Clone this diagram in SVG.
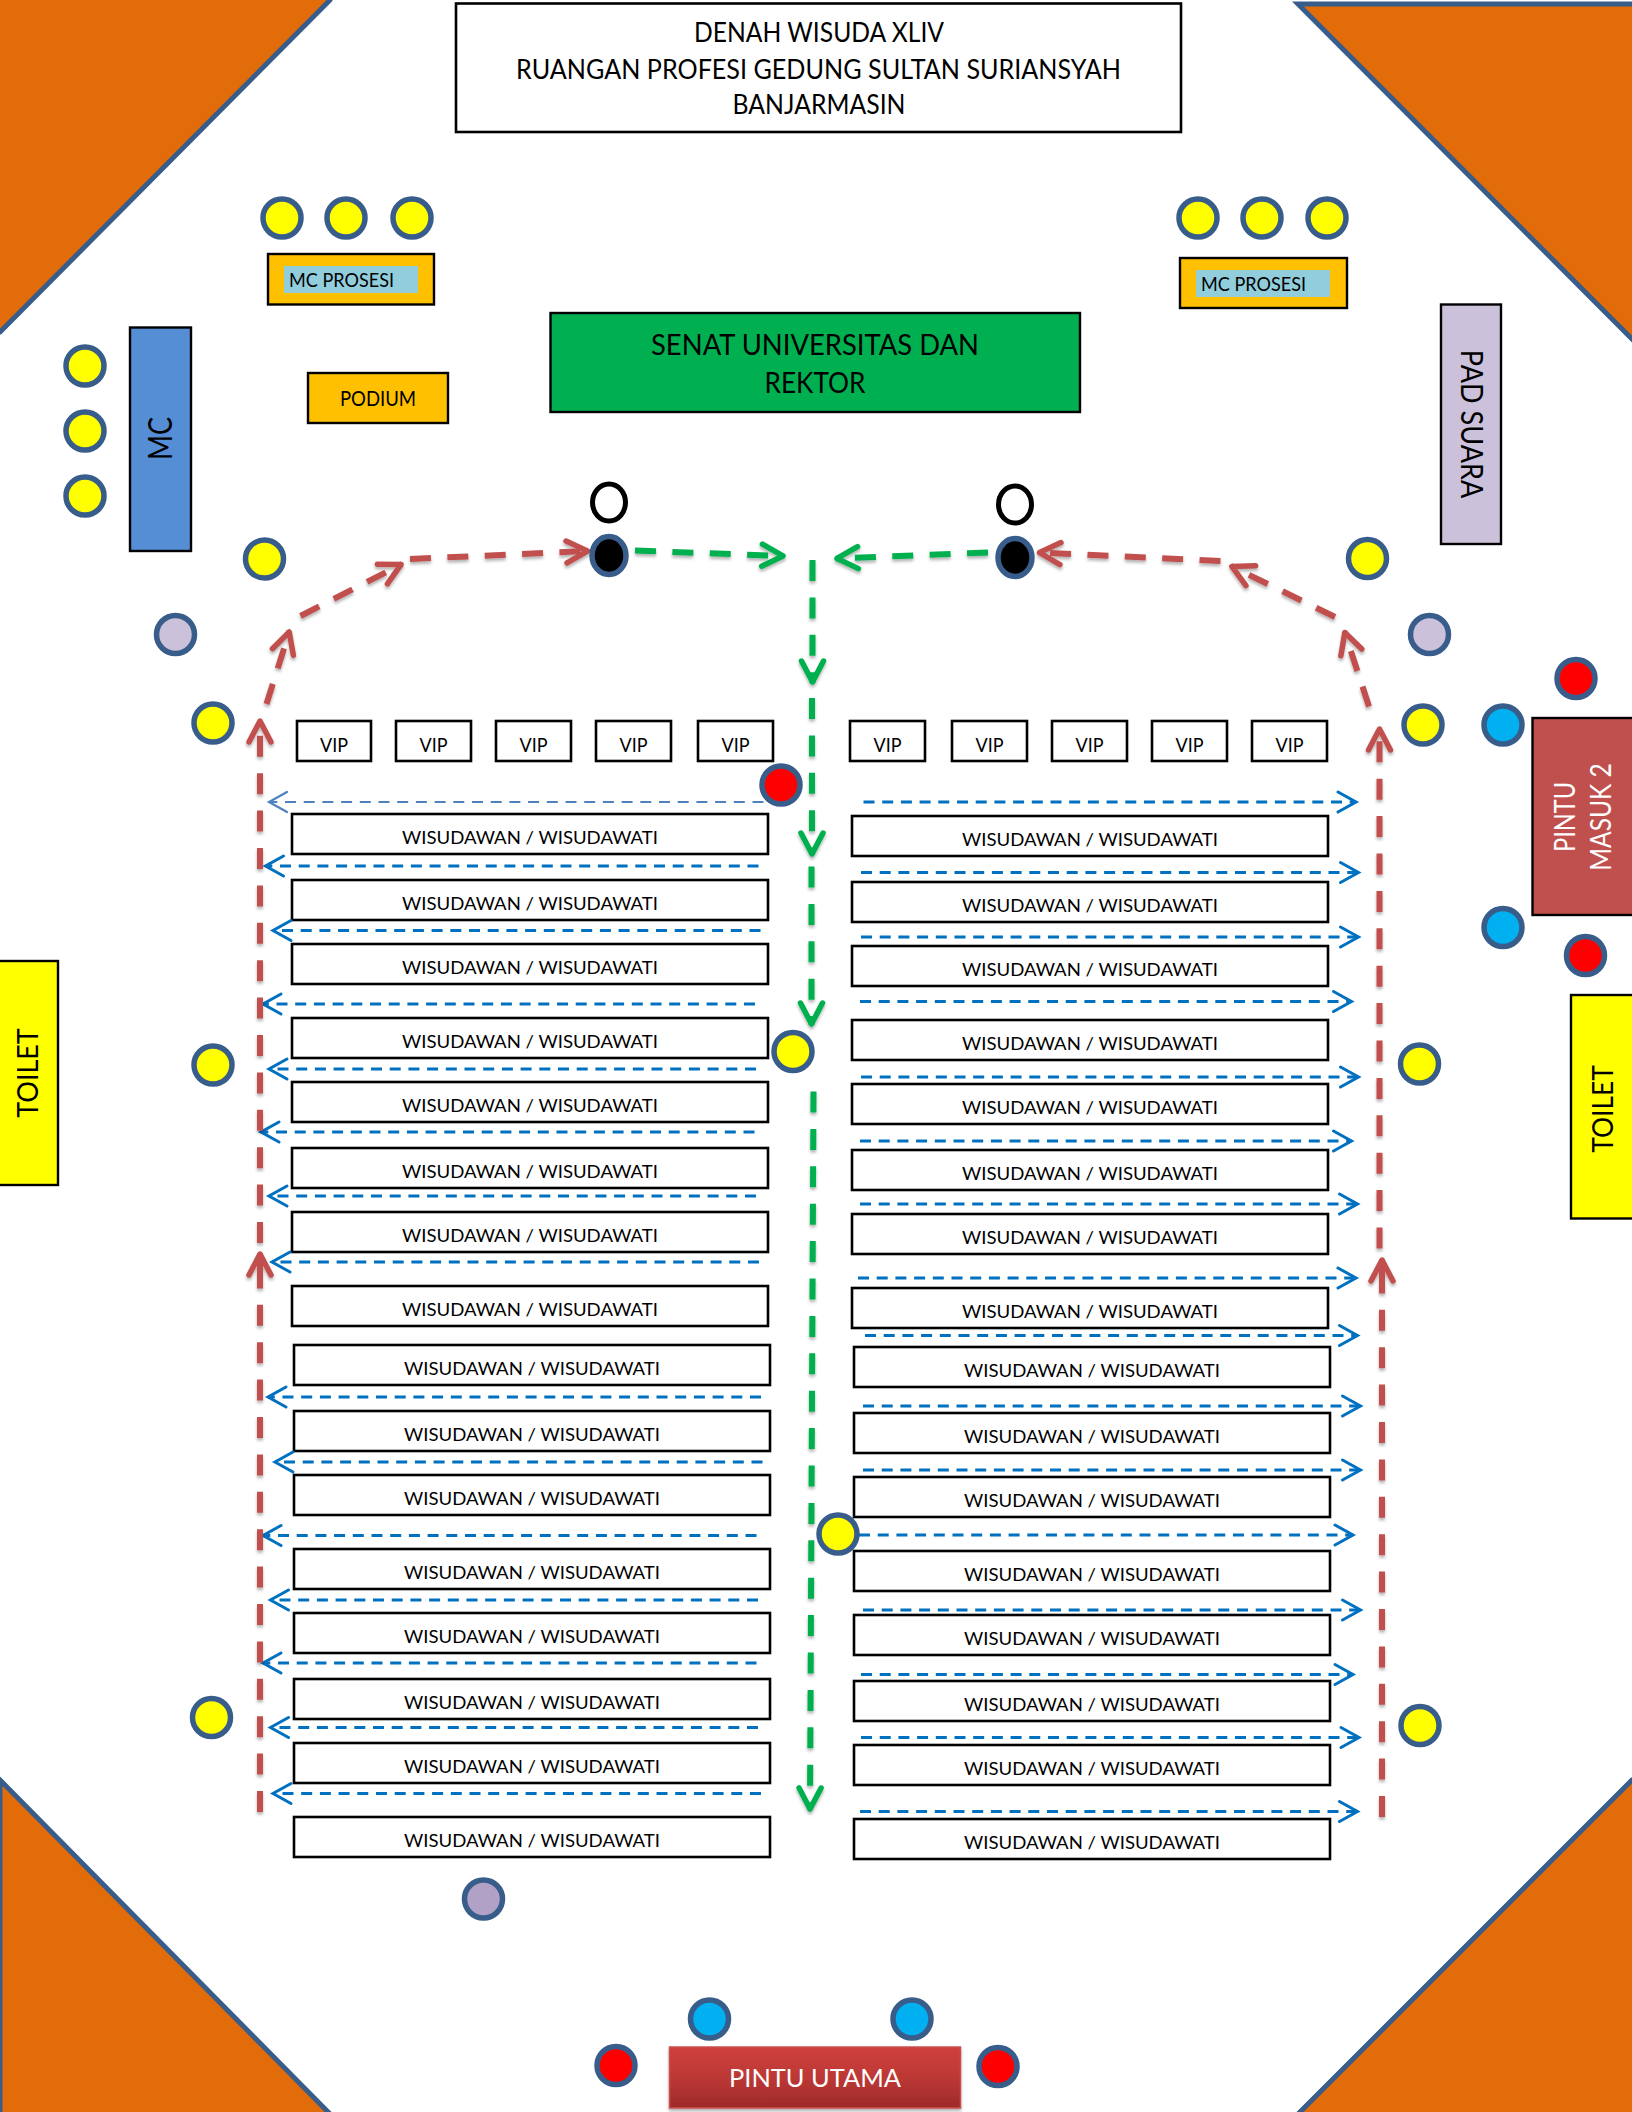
<svg xmlns="http://www.w3.org/2000/svg" width="1632" height="2112" viewBox="0 0 1632 2112">
<style>
text{font-family:"Lato","Carlito","Open Sans",sans-serif;fill:#000;text-anchor:middle}
.tri{fill:#E36C0A;stroke:#385D8A;stroke-width:5}
.box{fill:#fff;stroke:#000;stroke-width:2.6}
.thin{stroke:#000;stroke-width:2.4}
.c{stroke:#385D8A;stroke-width:5.5}
.y{fill:#FF0}.r{fill:#F00}.b{fill:#00B0F0}.l{fill:#CCC1DA}.k{fill:#000}
.row{font-size:18px}
.vip{font-size:20px}
.mcp{font-size:20px}
.blue{fill:none;stroke:#0070C0;stroke-width:3;stroke-dasharray:11 7.7;marker-end:url(#mb)}
.blue2{fill:none;stroke:#4F81BD;stroke-width:2.2;stroke-dasharray:11 7.7;marker-end:url(#mb2)}
.red{fill:none;stroke:#C0504D;stroke-width:6;stroke-dasharray:21 16.4;marker-end:url(#mr)}
.green{fill:none;stroke:#00B050;stroke-width:6;stroke-dasharray:21 16.4;marker-end:url(#mg)}
</style>
<defs>
<marker id="mb" markerUnits="userSpaceOnUse" markerWidth="28" markerHeight="30" refX="23" refY="15" orient="auto"><path d="M5 5L23 15L5 25" fill="none" stroke="#0070C0" stroke-width="3" stroke-linecap="round"/></marker>
<marker id="mb2" markerUnits="userSpaceOnUse" markerWidth="28" markerHeight="30" refX="23" refY="15" orient="auto"><path d="M5 5L23 15L5 25" fill="none" stroke="#4F81BD" stroke-width="2.2" stroke-linecap="round"/></marker>
<marker id="mr" markerUnits="userSpaceOnUse" markerWidth="36" markerHeight="36" refX="28" refY="18" orient="auto"><path d="M6 7L27 18L6 29" fill="none" stroke="#C0504D" stroke-width="5.5" stroke-linecap="round" stroke-linejoin="round"/></marker>
<marker id="mg" markerUnits="userSpaceOnUse" markerWidth="36" markerHeight="36" refX="28" refY="18" orient="auto"><path d="M6 7L27 18L6 29" fill="none" stroke="#00B050" stroke-width="5.5" stroke-linecap="round" stroke-linejoin="round"/></marker>
<filter id="sh" filterUnits="userSpaceOnUse" x="0" y="0" width="1632" height="2112"><feDropShadow dx="0" dy="2.5" stdDeviation="1.8" flood-color="#000" flood-opacity="0.3"/></filter>
<linearGradient id="gu" x1="0" y1="0" x2="0" y2="1"><stop offset="0" stop-color="#CF403C"/><stop offset="0.5" stop-color="#BC3835"/><stop offset="1" stop-color="#9E2A2A"/></linearGradient>
</defs>
<rect width="1632" height="2112" fill="#fff"/>

<g id="corner-tl"><polygon class="tri" points="-4,-4 330,-4 330,0 0,332 -4,332"/></g>
<g id="corner-tr"><polygon class="tri" points="1298,4 1640,4 1640,347 1632,339"/></g>
<g id="corner-bl"><polygon class="tri" points="0,1780 332,2116 0,2116"/></g>
<g id="corner-br"><polygon class="tri" points="1632,1780 1640,1780 1640,2116 1296,2116"/></g>

<g id="title"><rect class="box" x="456" y="3.5" width="725" height="128.5"/>
<text x="819" y="42" font-size="26" textLength="250" lengthAdjust="spacingAndGlyphs">DENAH WISUDA XLIV</text>
<text x="818.5" y="79" font-size="26" textLength="605" lengthAdjust="spacingAndGlyphs">RUANGAN PROFESI GEDUNG SULTAN SURIANSYAH</text>
<text x="819" y="113.5" font-size="26" textLength="173" lengthAdjust="spacingAndGlyphs">BANJARMASIN</text></g>

<g id="senat"><rect x="550.5" y="313" width="529.5" height="99" fill="#00B050" class="thin"/>
<text x="815" y="354.5" font-size="29" textLength="328" lengthAdjust="spacingAndGlyphs">SENAT UNIVERSITAS DAN</text>
<text x="815" y="393" font-size="29" textLength="101" lengthAdjust="spacingAndGlyphs">REKTOR</text></g>

<g id="mc-prosesi-left"><rect x="268" y="254" width="166" height="50.5" fill="#FFC000" class="thin"/><rect x="284" y="266" width="134" height="27" fill="#92CDDC"/><text class="mcp" x="341.5" y="287" textLength="105" lengthAdjust="spacingAndGlyphs">MC PROSESI</text></g>
<g id="mc-prosesi-right"><rect x="1180" y="258" width="167" height="50" fill="#FFC000" class="thin"/><rect x="1196" y="270" width="134" height="27" fill="#92CDDC"/><text class="mcp" x="1253.5" y="291" textLength="105" lengthAdjust="spacingAndGlyphs">MC PROSESI</text></g>
<g id="podium"><rect x="308" y="373" width="140" height="50" fill="#FFC000" class="thin"/><text x="378" y="405.5" font-size="21" textLength="76" lengthAdjust="spacingAndGlyphs">PODIUM</text></g>
<g id="mc"><rect x="130" y="327.5" width="61" height="223.5" fill="#558ED5" class="thin"/><text transform="translate(172 438.5) rotate(-90)" font-size="32" textLength="43" lengthAdjust="spacingAndGlyphs">MC</text></g>
<g id="pad-suara"><rect x="1441" y="304.5" width="60" height="239.5" fill="#CCC1DA" class="thin"/><text transform="translate(1461 424) rotate(90)" font-size="31" textLength="148.5" lengthAdjust="spacingAndGlyphs">PAD SUARA</text></g>
<g id="toilet-left"><rect x="-6" y="961" width="64" height="224" fill="#FF0" class="thin"/><text transform="translate(37.5 1073) rotate(-90)" font-size="29" textLength="89.5" lengthAdjust="spacingAndGlyphs">TOILET</text></g>
<g id="toilet-right"><rect x="1571" y="995" width="70" height="223.5" fill="#FF0" class="thin"/><text transform="translate(1613 1109) rotate(-90)" font-size="29" textLength="87.5" lengthAdjust="spacingAndGlyphs">TOILET</text></g>
<g id="pintu-masuk-2"><rect x="1532.5" y="718" width="108" height="197" fill="#C0504D" class="thin"/><text transform="translate(1574.5 817) rotate(-90)" font-size="28" textLength="70" lengthAdjust="spacingAndGlyphs" style="fill:#fff">PINTU</text><text transform="translate(1610.5 817) rotate(-90)" font-size="28" textLength="107.5" lengthAdjust="spacingAndGlyphs" style="fill:#fff">MASUK 2</text></g>
<g id="pintu-utama"><rect x="669.5" y="2047" width="291" height="61" fill="url(#gu)" stroke="#C8504C" stroke-width="1.5" filter="url(#sh)"/><text x="815" y="2086.5" font-size="25" textLength="172" lengthAdjust="spacingAndGlyphs" style="fill:#fff">PINTU UTAMA</text></g>

<g id="vip-left">
<g id="vip-l1"><rect class="box" x="297" y="721" width="74" height="40"/><text class="vip" x="334" y="751.5" textLength="28" lengthAdjust="spacingAndGlyphs">VIP</text></g>
<g id="vip-l2"><rect class="box" x="396" y="721" width="75" height="40"/><text class="vip" x="433.5" y="751.5" textLength="28" lengthAdjust="spacingAndGlyphs">VIP</text></g>
<g id="vip-l3"><rect class="box" x="496" y="721" width="75" height="40"/><text class="vip" x="533.5" y="751.5" textLength="28" lengthAdjust="spacingAndGlyphs">VIP</text></g>
<g id="vip-l4"><rect class="box" x="596" y="721" width="75" height="40"/><text class="vip" x="633.5" y="751.5" textLength="28" lengthAdjust="spacingAndGlyphs">VIP</text></g>
<g id="vip-l5"><rect class="box" x="698" y="721" width="75" height="40"/><text class="vip" x="735.5" y="751.5" textLength="28" lengthAdjust="spacingAndGlyphs">VIP</text></g>
</g>
<g id="vip-right">
<g id="vip-r1"><rect class="box" x="850" y="721" width="75" height="40"/><text class="vip" x="887.5" y="751.5" textLength="28" lengthAdjust="spacingAndGlyphs">VIP</text></g>
<g id="vip-r2"><rect class="box" x="952" y="721" width="75" height="40"/><text class="vip" x="989.5" y="751.5" textLength="28" lengthAdjust="spacingAndGlyphs">VIP</text></g>
<g id="vip-r3"><rect class="box" x="1052" y="721" width="75" height="40"/><text class="vip" x="1089.5" y="751.5" textLength="28" lengthAdjust="spacingAndGlyphs">VIP</text></g>
<g id="vip-r4"><rect class="box" x="1152" y="721" width="75" height="40"/><text class="vip" x="1189.5" y="751.5" textLength="28" lengthAdjust="spacingAndGlyphs">VIP</text></g>
<g id="vip-r5"><rect class="box" x="1252" y="721" width="75" height="40"/><text class="vip" x="1289.5" y="751.5" textLength="28" lengthAdjust="spacingAndGlyphs">VIP</text></g>
</g>

<g id="rows-left">
<g id="l1"><rect class="box" x="292" y="814" width="476" height="40"/><text class="row" x="530" y="844" textLength="256" lengthAdjust="spacingAndGlyphs">WISUDAWAN / WISUDAWATI</text></g>
<g id="l2"><rect class="box" x="292" y="880" width="476" height="40"/><text class="row" x="530" y="910" textLength="256" lengthAdjust="spacingAndGlyphs">WISUDAWAN / WISUDAWATI</text></g>
<g id="l3"><rect class="box" x="292" y="944" width="476" height="40"/><text class="row" x="530" y="974" textLength="256" lengthAdjust="spacingAndGlyphs">WISUDAWAN / WISUDAWATI</text></g>
<g id="l4"><rect class="box" x="292" y="1018" width="476" height="40"/><text class="row" x="530" y="1048" textLength="256" lengthAdjust="spacingAndGlyphs">WISUDAWAN / WISUDAWATI</text></g>
<g id="l5"><rect class="box" x="292" y="1082" width="476" height="40"/><text class="row" x="530" y="1112" textLength="256" lengthAdjust="spacingAndGlyphs">WISUDAWAN / WISUDAWATI</text></g>
<g id="l6"><rect class="box" x="292" y="1148" width="476" height="40"/><text class="row" x="530" y="1178" textLength="256" lengthAdjust="spacingAndGlyphs">WISUDAWAN / WISUDAWATI</text></g>
<g id="l7"><rect class="box" x="292" y="1212" width="476" height="40"/><text class="row" x="530" y="1242" textLength="256" lengthAdjust="spacingAndGlyphs">WISUDAWAN / WISUDAWATI</text></g>
<g id="l8"><rect class="box" x="292" y="1286" width="476" height="40"/><text class="row" x="530" y="1316" textLength="256" lengthAdjust="spacingAndGlyphs">WISUDAWAN / WISUDAWATI</text></g>
<g id="l9"><rect class="box" x="294" y="1345" width="476" height="40"/><text class="row" x="532" y="1375" textLength="256" lengthAdjust="spacingAndGlyphs">WISUDAWAN / WISUDAWATI</text></g>
<g id="l10"><rect class="box" x="294" y="1411" width="476" height="40"/><text class="row" x="532" y="1441" textLength="256" lengthAdjust="spacingAndGlyphs">WISUDAWAN / WISUDAWATI</text></g>
<g id="l11"><rect class="box" x="294" y="1475" width="476" height="40"/><text class="row" x="532" y="1505" textLength="256" lengthAdjust="spacingAndGlyphs">WISUDAWAN / WISUDAWATI</text></g>
<g id="l12"><rect class="box" x="294" y="1549" width="476" height="40"/><text class="row" x="532" y="1579" textLength="256" lengthAdjust="spacingAndGlyphs">WISUDAWAN / WISUDAWATI</text></g>
<g id="l13"><rect class="box" x="294" y="1613" width="476" height="40"/><text class="row" x="532" y="1643" textLength="256" lengthAdjust="spacingAndGlyphs">WISUDAWAN / WISUDAWATI</text></g>
<g id="l14"><rect class="box" x="294" y="1679" width="476" height="40"/><text class="row" x="532" y="1709" textLength="256" lengthAdjust="spacingAndGlyphs">WISUDAWAN / WISUDAWATI</text></g>
<g id="l15"><rect class="box" x="294" y="1743" width="476" height="40"/><text class="row" x="532" y="1773" textLength="256" lengthAdjust="spacingAndGlyphs">WISUDAWAN / WISUDAWATI</text></g>
<g id="l16"><rect class="box" x="294" y="1817" width="476" height="40"/><text class="row" x="532" y="1847" textLength="256" lengthAdjust="spacingAndGlyphs">WISUDAWAN / WISUDAWATI</text></g>
</g>
<g id="rows-right">
<g id="r1"><rect class="box" x="852" y="816" width="476" height="40"/><text class="row" x="1090" y="846" textLength="256" lengthAdjust="spacingAndGlyphs">WISUDAWAN / WISUDAWATI</text></g>
<g id="r2"><rect class="box" x="852" y="882" width="476" height="40"/><text class="row" x="1090" y="912" textLength="256" lengthAdjust="spacingAndGlyphs">WISUDAWAN / WISUDAWATI</text></g>
<g id="r3"><rect class="box" x="852" y="946" width="476" height="40"/><text class="row" x="1090" y="976" textLength="256" lengthAdjust="spacingAndGlyphs">WISUDAWAN / WISUDAWATI</text></g>
<g id="r4"><rect class="box" x="852" y="1020" width="476" height="40"/><text class="row" x="1090" y="1050" textLength="256" lengthAdjust="spacingAndGlyphs">WISUDAWAN / WISUDAWATI</text></g>
<g id="r5"><rect class="box" x="852" y="1084" width="476" height="40"/><text class="row" x="1090" y="1114" textLength="256" lengthAdjust="spacingAndGlyphs">WISUDAWAN / WISUDAWATI</text></g>
<g id="r6"><rect class="box" x="852" y="1150" width="476" height="40"/><text class="row" x="1090" y="1180" textLength="256" lengthAdjust="spacingAndGlyphs">WISUDAWAN / WISUDAWATI</text></g>
<g id="r7"><rect class="box" x="852" y="1214" width="476" height="40"/><text class="row" x="1090" y="1244" textLength="256" lengthAdjust="spacingAndGlyphs">WISUDAWAN / WISUDAWATI</text></g>
<g id="r8"><rect class="box" x="852" y="1288" width="476" height="40"/><text class="row" x="1090" y="1318" textLength="256" lengthAdjust="spacingAndGlyphs">WISUDAWAN / WISUDAWATI</text></g>
<g id="r9"><rect class="box" x="854" y="1347" width="476" height="40"/><text class="row" x="1092" y="1377" textLength="256" lengthAdjust="spacingAndGlyphs">WISUDAWAN / WISUDAWATI</text></g>
<g id="r10"><rect class="box" x="854" y="1413" width="476" height="40"/><text class="row" x="1092" y="1443" textLength="256" lengthAdjust="spacingAndGlyphs">WISUDAWAN / WISUDAWATI</text></g>
<g id="r11"><rect class="box" x="854" y="1477" width="476" height="40"/><text class="row" x="1092" y="1507" textLength="256" lengthAdjust="spacingAndGlyphs">WISUDAWAN / WISUDAWATI</text></g>
<g id="r12"><rect class="box" x="854" y="1551" width="476" height="40"/><text class="row" x="1092" y="1581" textLength="256" lengthAdjust="spacingAndGlyphs">WISUDAWAN / WISUDAWATI</text></g>
<g id="r13"><rect class="box" x="854" y="1615" width="476" height="40"/><text class="row" x="1092" y="1645" textLength="256" lengthAdjust="spacingAndGlyphs">WISUDAWAN / WISUDAWATI</text></g>
<g id="r14"><rect class="box" x="854" y="1681" width="476" height="40"/><text class="row" x="1092" y="1711" textLength="256" lengthAdjust="spacingAndGlyphs">WISUDAWAN / WISUDAWATI</text></g>
<g id="r15"><rect class="box" x="854" y="1745" width="476" height="40"/><text class="row" x="1092" y="1775" textLength="256" lengthAdjust="spacingAndGlyphs">WISUDAWAN / WISUDAWATI</text></g>
<g id="r16"><rect class="box" x="854" y="1819" width="476" height="40"/><text class="row" x="1092" y="1849" textLength="256" lengthAdjust="spacingAndGlyphs">WISUDAWAN / WISUDAWATI</text></g>
</g>

<g id="connectors">
<g id="blue-left">
<path class="blue2" d="M763.5 802H269"/>
<path class="blue" d="M758.5 866H265.5"/>
<path class="blue" d="M760.5 930.5H273"/>
<path class="blue" d="M755 1004H263"/>
<path class="blue" d="M756 1069H269"/>
<path class="blue" d="M754.5 1132H261"/>
<path class="blue" d="M756 1196H269"/>
<path class="blue" d="M759 1262H272"/>
<path class="blue" d="M761 1397H268"/>
<path class="blue" d="M762.5 1462H275"/>
<path class="blue" d="M756.5 1535.5H263"/>
<path class="blue" d="M758 1600H270.5"/>
<path class="blue" d="M756.5 1663H263"/>
<path class="blue" d="M758 1727.5H270.5"/>
<path class="blue" d="M761 1793.5H273"/>
</g>
<g id="blue-right">
<path class="blue" d="M863.5 802H1356"/>
<path class="blue" d="M861 872.5H1358.5"/>
<path class="blue" d="M861 937H1358.5"/>
<path class="blue" d="M860 1001.5H1351.5"/>
<path class="blue" d="M861 1077H1358.5"/>
<path class="blue" d="M860 1141H1351.5"/>
<path class="blue" d="M860 1204H1357.5"/>
<path class="blue" d="M858 1278H1356"/>
<path class="blue" d="M865 1335.5H1357.5"/>
<path class="blue" d="M863 1406H1360.5"/>
<path class="blue" d="M863 1470H1360.5"/>
<path class="blue" d="M859 1535H1353"/>
<path class="blue" d="M863 1610H1360.5"/>
<path class="blue" d="M861 1674.5H1353"/>
<path class="blue" d="M861 1737.5H1359"/>
<path class="blue" d="M860 1811.5H1357.5"/>
</g>
<g id="red-paths" filter="url(#sh)">
<path class="red" style="stroke-dasharray:21 16.4 21 16.4 21 16.4 21 16.4 21 16.4 21 16.4 21 16.4 21 16.4 21 16.4 21 16.4 21 16.4 21 16.4 21 16.4 21 16.4 40 0" d="M260 1812V1253"/>
<path class="red" d="M260 1243V720"/>
<path class="red" d="M266.5 704L289.5 631"/>
<path class="red" d="M300.5 616L402 564"/>
<path class="red" d="M410 559L588.5 551"/>
<path class="red" style="stroke-dasharray:21 16.4 21 16.4 21 16.4 21 16.4 21 16.4 21 16.4 21 16.4 21 16.4 21 16.4 21 16.4 21 16.4 21 16.4 21 16.4 21 16.4 40 0" d="M1382 1817V1259"/>
<path class="red" d="M1379.5 1248.5V728"/>
<path class="red" d="M1369 706.5L1344.5 631.5"/>
<path class="red" d="M1335 617L1231 566"/>
<path class="red" d="M1220.5 561L1038.5 552.5"/>
</g>
<g id="green-paths" filter="url(#sh)">
<path class="green" d="M635 550.5L784 556"/>
<path class="green" d="M988 552.5L836 558.5"/>
<path class="green" d="M812.5 560V683"/>
<path class="green" d="M812 698V855"/>
<path class="green" d="M811.5 866.5V1025"/>
<path class="green" d="M813.5 1091.5L810 1810"/>
</g>
</g>

<g id="seat-mc-l1"><circle class="c y" cx="282" cy="218" r="19"/></g>
<g id="seat-mc-l2"><circle class="c y" cx="346" cy="218" r="19"/></g>
<g id="seat-mc-l3"><circle class="c y" cx="412" cy="218" r="19"/></g>
<g id="seat-mc-r1"><circle class="c y" cx="1198" cy="218" r="19"/></g>
<g id="seat-mc-r2"><circle class="c y" cx="1262" cy="218" r="19"/></g>
<g id="seat-mc-r3"><circle class="c y" cx="1327" cy="218" r="19"/></g>
<g id="seat-a1"><circle class="c y" cx="85" cy="366" r="19"/></g>
<g id="seat-a2"><circle class="c y" cx="85" cy="431" r="19"/></g>
<g id="seat-a3"><circle class="c y" cx="85" cy="496" r="19"/></g>
<g id="seat-a4"><circle class="c y" cx="264.5" cy="559" r="19"/></g>
<g id="seat-a5"><circle class="c l" cx="175.5" cy="634.5" r="19"/></g>
<g id="seat-a6"><circle class="c y" cx="213" cy="723" r="19"/></g>
<g id="seat-a7"><circle class="c y" cx="213" cy="1065" r="19"/></g>
<g id="seat-a8"><circle class="c y" cx="211.5" cy="1717.5" r="19"/></g>
<g id="seat-a9"><circle class="c" fill="#B2A1C7" cx="483.5" cy="1899" r="19"/></g>
<g id="seat-b1"><circle class="c y" cx="1367.5" cy="558.5" r="19"/></g>
<g id="seat-b2"><circle class="c l" cx="1429.5" cy="634.5" r="19"/></g>
<g id="seat-b3"><circle class="c y" cx="1423" cy="725" r="19"/></g>
<g id="seat-b4"><circle class="c b" cx="1503" cy="725" r="19"/></g>
<g id="seat-b5"><circle class="c r" cx="1576" cy="678.5" r="19"/></g>
<g id="seat-b6"><circle class="c b" cx="1503" cy="927.5" r="19"/></g>
<g id="seat-b7"><circle class="c r" cx="1585.5" cy="955.5" r="19"/></g>
<g id="seat-b8"><circle class="c y" cx="1419.5" cy="1064" r="19"/></g>
<g id="seat-b9"><circle class="c y" cx="1420" cy="1725.5" r="19"/></g>
<g id="seat-m1"><circle class="c r" cx="781" cy="785" r="19"/></g>
<g id="seat-m2"><circle class="c y" cx="793" cy="1051.5" r="19"/></g>
<g id="seat-m3"><circle class="c y" cx="838" cy="1534" r="19"/></g>
<g id="seat-d1"><circle class="c b" cx="709.5" cy="2019" r="19"/></g>
<g id="seat-d2"><circle class="c b" cx="912" cy="2019" r="19"/></g>
<g id="seat-d3"><circle class="c r" cx="616" cy="2065.5" r="19"/></g>
<g id="seat-d4"><circle class="c r" cx="998" cy="2066.5" r="19"/></g>
<g id="stand-l-top"><ellipse cx="609" cy="502.5" rx="16.5" ry="18.5" fill="#fff" stroke="#000" stroke-width="5"/></g>
<g id="stand-l"><ellipse class="c k" cx="609" cy="555.5" rx="17" ry="19"/></g>
<g id="stand-r-top"><ellipse cx="1015" cy="504.5" rx="16.5" ry="18.5" fill="#fff" stroke="#000" stroke-width="5"/></g>
<g id="stand-r"><ellipse class="c k" cx="1015" cy="557.5" rx="17" ry="19"/></g>
</svg>
